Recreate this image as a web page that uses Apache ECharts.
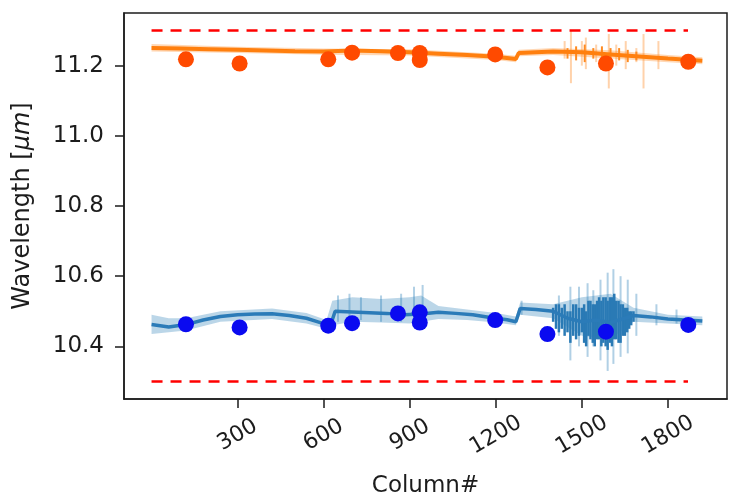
<!DOCTYPE html>
<html>
<head>
<meta charset="utf-8">
<script src="https://cdn.jsdelivr.net/npm/echarts@6/dist/echarts.min.js"></script>
<style>
  html, body { margin: 0; padding: 0; background: #fff; }
  #chart { width: 729px; height: 499px; }
</style>
</head>
<body>
<div id="chart"></div>
<script>
// Tick positions
const xTicks = [300, 600, 900, 1200, 1500, 1800];
const yTicks = [10.4, 10.6, 10.8, 11.0, 11.2];

// Fitted centre line of the lower band: [column, wavelength]
const lowerBandLine = [[0, 10.462], [60, 10.455], [120, 10.462], [180, 10.475], [240, 10.485], [300, 10.490],
  [360, 10.492], [420, 10.493], [480, 10.488], [540, 10.480], [580, 10.470], [610, 10.462], [630, 10.475],
  [640, 10.500], [700, 10.498], [760, 10.496], [820, 10.494], [880, 10.490], [940, 10.492], [1000, 10.497],
  [1060, 10.494], [1120, 10.490], [1180, 10.482], [1240, 10.476], [1270, 10.470], [1285, 10.508],
  [1340, 10.505], [1400, 10.500], [1450, 10.480], [1500, 10.470], [1550, 10.475], [1600, 10.468],
  [1650, 10.480], [1680, 10.488], [1740, 10.484], [1800, 10.478], [1860, 10.475], [1920, 10.472]];

// Uncertainty envelope of the lower band: [column, low, high]
const lowerBandSpread = [[0, 10.435, 10.490], [60, 10.440, 10.480], [120, 10.445, 10.480], [240, 10.470, 10.500],
  [420, 10.478, 10.508], [540, 10.465, 10.495], [610, 10.450, 10.475], [630, 10.460, 10.530],
  [700, 10.470, 10.540], [800, 10.468, 10.535], [900, 10.465, 10.540], [940, 10.470, 10.545],
  [1000, 10.478, 10.515], [1100, 10.475, 10.505], [1200, 10.468, 10.495], [1270, 10.460, 10.485],
  [1285, 10.490, 10.525], [1400, 10.480, 10.520], [1500, 10.430, 10.540], [1600, 10.420, 10.550],
  [1680, 10.470, 10.510], [1800, 10.465, 10.490], [1920, 10.460, 10.485]];

// Isolated light excursions of the lower band: [column, low, high]
const lowerBandSpikes = [[650, 10.47, 10.545], [690, 10.47, 10.55], [730, 10.475, 10.54], [800, 10.47, 10.545],
  [870, 10.47, 10.55], [915, 10.47, 10.57], [945, 10.46, 10.575], [1290, 10.49, 10.53], [1420, 10.43, 10.545],
  [1460, 10.36, 10.57], [1490, 10.40, 10.57], [1520, 10.37, 10.58], [1540, 10.40, 10.56], [1565, 10.36, 10.59],
  [1590, 10.33, 10.61], [1610, 10.35, 10.62], [1635, 10.37, 10.60], [1660, 10.38, 10.59], [1690, 10.43, 10.55],
  [1760, 10.46, 10.52], [1830, 10.465, 10.505]];

// Dense oscillation of the lower centre line: [column, low, high]
const lowerBandJitter = [[1400, 10.47, 10.51], [1410, 10.45, 10.52], [1420, 10.44, 10.52], [1430, 10.45, 10.51],
  [1440, 10.43, 10.52], [1450, 10.44, 10.50], [1460, 10.41, 10.50], [1470, 10.43, 10.52], [1480, 10.42, 10.52],
  [1490, 10.43, 10.51], [1500, 10.44, 10.51], [1508, 10.41, 10.52], [1515, 10.40, 10.50], [1523, 10.43, 10.53],
  [1530, 10.42, 10.53], [1538, 10.41, 10.52], [1545, 10.40, 10.52], [1553, 10.42, 10.53], [1560, 10.42, 10.54],
  [1568, 10.40, 10.53], [1575, 10.41, 10.54], [1583, 10.40, 10.54], [1590, 10.39, 10.53], [1598, 10.41, 10.54],
  [1605, 10.40, 10.54], [1613, 10.42, 10.55], [1620, 10.42, 10.53], [1628, 10.41, 10.53], [1635, 10.41, 10.52],
  [1643, 10.43, 10.52], [1650, 10.43, 10.51], [1658, 10.44, 10.51], [1665, 10.45, 10.50], [1672, 10.46, 10.50],
  [1680, 10.47, 10.50]];

// Fitted centre line of the upper band
const upperBandLine = [[0, 11.250], [100, 11.249], [200, 11.247], [300, 11.245], [400, 11.243], [500, 11.241],
  [600, 11.240], [700, 11.243], [800, 11.241], [900, 11.238], [1000, 11.234], [1100, 11.230], [1200, 11.225],
  [1270, 11.219], [1280, 11.236], [1400, 11.240], [1500, 11.238], [1600, 11.232], [1700, 11.226],
  [1800, 11.220], [1920, 11.214]];

const upperBandSpread = [[0, 11.240, 11.262], [300, 11.236, 11.254], [600, 11.231, 11.249], [900, 11.229, 11.247],
  [1200, 11.216, 11.234], [1270, 11.210, 11.228], [1280, 11.227, 11.245], [1400, 11.230, 11.250],
  [1600, 11.220, 11.244], [1800, 11.210, 11.230], [1920, 11.204, 11.224]];

const upperBandSpikes = [[1440, 11.22, 11.27], [1462, 11.15, 11.30], [1500, 11.20, 11.27], [1514, 11.19, 11.28],
  [1550, 11.21, 11.26], [1594, 11.135, 11.29], [1620, 11.20, 11.26], [1653, 11.19, 11.27], [1690, 11.21, 11.25],
  [1715, 11.135, 11.29], [1767, 11.19, 11.27]];

const upperBandJitter = [[1450, 11.22, 11.25], [1480, 11.215, 11.255], [1510, 11.21, 11.26], [1540, 11.22, 11.25],
  [1570, 11.21, 11.255], [1600, 11.205, 11.25], [1630, 11.215, 11.25], [1660, 11.21, 11.245], [1690, 11.215, 11.24]];

// Measured line positions
const lineColumns = [120, 307, 616, 699, 859, 935, 935, 1198, 1380, 1584, 1871];
const upperLineWavelengths = [11.218, 11.206, 11.218, 11.237, 11.236, 11.236, 11.216, 11.232, 11.195, 11.206, 11.211];
const lowerLineWavelengths = [10.463, 10.454, 10.459, 10.466, 10.494, 10.497, 10.468, 10.475, 10.435, 10.442, 10.461];

// Acceptance limits
const limitColumns = [0, 1870];
const upperLimit = 11.3;
const lowerLimit = 10.3;

const FONT = '"DejaVu Sans", sans-serif';
const INK = '#1c1c1c';

function envelope(points, fill) {
  return {
    type: 'custom',
    data: points,
    silent: true,
    z: 1,
    renderItem: function (params, api) {
      if (params.dataIndex !== 0) return null;
      const top = points.map(p => api.coord([p[0], p[2]]));
      const bottom = points.slice().reverse().map(p => api.coord([p[0], p[1]]));
      return { type: 'polygon', shape: { points: top.concat(bottom) }, style: { fill: fill } };
    },
    encode: { x: 0, y: [1, 2] }
  };
}

function strokes(points, color, width, z) {
  return {
    type: 'custom',
    data: points,
    silent: true,
    z: z,
    renderItem: function (params, api) {
      const a = api.coord([api.value(0), api.value(1)]);
      const b = api.coord([api.value(0), api.value(2)]);
      return { type: 'line', shape: { x1: a[0], y1: a[1], x2: b[0], y2: b[1] }, style: { stroke: color, lineWidth: width } };
    },
    encode: { x: 0, y: [1, 2] }
  };
}

function trace(points, color, width) {
  return { type: 'line', data: points, showSymbol: false, silent: true, z: 3,
    lineStyle: { color: color, width: width } };
}

function markers(values, color) {
  return { type: 'scatter', data: lineColumns.map((c, i) => [c, values[i]]), symbolSize: 16, z: 5,
    itemStyle: { color: color, opacity: 1 } };
}

function limit(value) {
  return { type: 'line', data: limitColumns.map(c => [c, value]), showSymbol: false, silent: true, z: 6,
    lineStyle: { color: '#ff0000', width: 2.5, type: [11, 8] } };
}

const chart = echarts.init(document.getElementById('chart'), null, { renderer: 'canvas' });
chart.setOption({
  animation: false,
  backgroundColor: '#ffffff',
  grid: { left: 124, right: 2, top: 13, bottom: 100, outerBoundsMode: 'none', containLabel: false,
    show: true, borderColor: INK, borderWidth: 1.5 },
  xAxis: {
    type: 'value', min: -96, max: 2006,
    name: 'Column#', nameLocation: 'middle', nameGap: 76,
    nameTextStyle: { fontFamily: FONT, fontSize: 23, color: INK },
    axisLine: { show: true, onZero: false, lineStyle: { color: INK, width: 1.5 } },
    axisTick: { show: true, length: 9, inside: false, customValues: xTicks, lineStyle: { color: INK, width: 1.5 } },
    axisLabel: { customValues: xTicks, rotate: 30, align: 'center', verticalAlign: 'middle', margin: 36,
      formatter: v => String(v), fontFamily: FONT, fontSize: 22, color: INK },
    splitLine: { show: false }
  },
  yAxis: {
    type: 'value', min: 10.25, max: 11.35,
    name: 'Wavelength [{i|μm}]', nameLocation: 'middle', nameGap: 89, nameRotate: 90,
    nameTextStyle: { fontFamily: FONT, fontSize: 24, color: INK,
      rich: { i: { fontFamily: FONT, fontSize: 24, fontStyle: 'italic', color: INK } } },
    axisLine: { show: true, onZero: false, lineStyle: { color: INK, width: 1.5 } },
    axisTick: { show: true, length: 9, customValues: yTicks, lineStyle: { color: INK, width: 1.5 } },
    axisLabel: { customValues: yTicks, formatter: v => v.toFixed(1), margin: 20,
      fontFamily: FONT, fontSize: 23, color: INK },
    splitLine: { show: false }
  },
  series: [
    envelope(lowerBandSpread, 'rgba(31,119,180,0.30)'),
    envelope(upperBandSpread, 'rgba(255,127,14,0.30)'),
    strokes(lowerBandSpikes, 'rgba(31,119,180,0.35)', 2, 2),
    strokes(upperBandSpikes, 'rgba(255,127,14,0.35)', 2, 2),
    strokes(lowerBandJitter, '#2a7ab5', 2.5, 3),
    strokes(upperBandJitter, '#ff8a20', 2, 3),
    trace(lowerBandLine, '#2b7bb8', 3.5),
    trace(upperBandLine, '#ff7f0e', 4),
    markers(upperLineWavelengths, '#ff4a00'),
    markers(lowerLineWavelengths, '#0a0af0'),
    limit(upperLimit),
    limit(lowerLimit)
  ]
});
</script>
</body>
</html>
